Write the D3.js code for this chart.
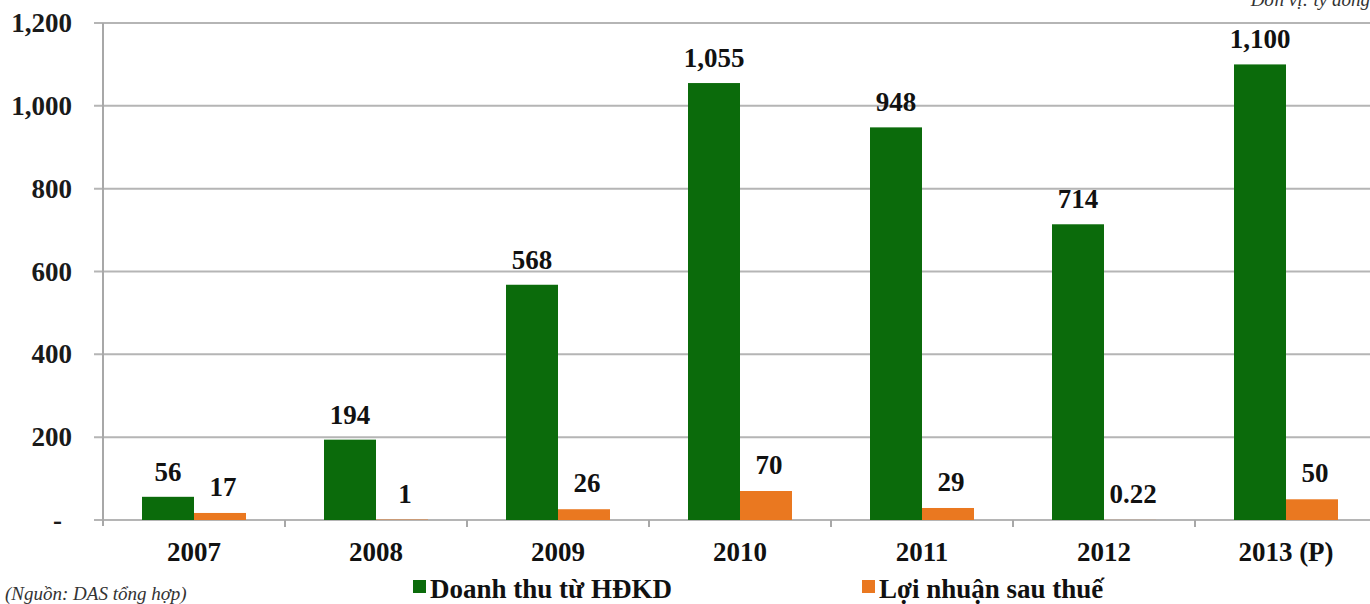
<!DOCTYPE html>
<html>
<head>
<meta charset="utf-8">
<script src="https://cdn.jsdelivr.net/npm/d3@7"></script>
<style>
body { margin: 0; background: #fff; }
text { font-family: "Liberation Serif", "Times New Roman", serif; }
</style>
</head>
<body>
<svg width="1370" height="604"></svg>
<script>
var years = ["2007", "2008", "2009", "2010", "2011", "2012", "2013 (P)"];
var revenue = [56, 194, 568, 1055, 948, 714, 1100];
var profit = [17, 1, 26, 70, 29, 0.22, 50];
var revenueLabels = ["56", "194", "568", "1,055", "948", "714", "1,100"];
var profitLabels = ["17", "1", "26", "70", "29", "0.22", "50"];
var yTicks = [0, 200, 400, 600, 800, 1000, 1200];
var seriesNames = ["Doanh thu từ HĐKD", "Lợi nhuận sau thuế"];
var colors = ["#0b6b0b", "#ea7820"];

var svg = d3.select("svg");
var plotLeft = 103, plotRight = 1377, plotTop = 23, plotBottom = 520;

var x = d3.scaleBand().domain(years).range([plotLeft, plotRight]);
var y = d3.scaleLinear().domain([0, 1200]).range([plotBottom, plotTop]);
var barW = 52;

// grid lines
svg.selectAll("line.grid")
  .data(yTicks)
  .enter()
  .append("line")
  .attr("x1", plotLeft - 9)
  .attr("x2", 1370)
  .attr("y1", function(d) {return y(d)})
  .attr("y2", function(d) {return y(d)})
  .style("stroke", "#b5b5b5")
  .style("stroke-width", 2);

// y axis line
svg.append("line")
  .attr("x1", plotLeft).attr("x2", plotLeft)
  .attr("y1", plotTop).attr("y2", plotBottom + 6)
  .style("stroke", "#a8a8a8")
  .style("stroke-width", 2);

// category ticks
svg.selectAll("line.ctick")
  .data(years.slice(1))
  .enter()
  .append("line")
  .attr("x1", function(d) {return x(d)})
  .attr("x2", function(d) {return x(d)})
  .attr("y1", plotBottom)
  .attr("y2", plotBottom + 7)
  .style("stroke", "#a8a8a8")
  .style("stroke-width", 2);

// y tick labels
var fmt = d3.format(",");
svg.selectAll("text.ylab")
  .data(yTicks)
  .enter()
  .append("text")
  .attr("class", "ylab")
  .attr("x", function(d) {return d === 0 ? 62 : 72})
  .attr("y", function(d) {return y(d) + 9})
  .attr("text-anchor", "end")
  .style("font-size", "27px")
  .style("font-weight", "bold")
  .style("fill", "#1a1a1a")
  .text(function(d) {return d === 0 ? "-" : fmt(d)});

// bars
svg.selectAll("rect.rev")
  .data(revenue)
  .enter()
  .append("rect")
  .attr("x", function(d, i) {return x(years[i]) + x.bandwidth() / 2 - barW})
  .attr("y", function(d) {return y(d)})
  .attr("width", barW)
  .attr("height", function(d) {return plotBottom - y(d)})
  .style("fill", colors[0]);

svg.selectAll("rect.prof")
  .data(profit)
  .enter()
  .append("rect")
  .attr("x", function(d, i) {return x(years[i]) + x.bandwidth() / 2})
  .attr("y", function(d) {return y(d)})
  .attr("width", barW)
  .attr("height", function(d) {return plotBottom - y(d)})
  .style("fill", colors[1]);

// value labels
svg.selectAll("text.rlab")
  .data(revenue)
  .enter()
  .append("text")
  .attr("x", function(d, i) {return x(years[i]) + x.bandwidth() / 2 - barW / 2})
  .attr("y", function(d) {return y(d) - 16})
  .attr("text-anchor", "middle")
  .style("font-size", "27px")
  .style("font-weight", "bold")
  .style("fill", "#111")
  .text(function(d, i) {return revenueLabels[i]});

svg.selectAll("text.plab")
  .data(profit)
  .enter()
  .append("text")
  .attr("x", function(d, i) {return x(years[i]) + x.bandwidth() / 2 + barW / 2 + 3})
  .attr("y", function(d) {return y(d) - 17})
  .attr("text-anchor", "middle")
  .style("font-size", "27px")
  .style("font-weight", "bold")
  .style("fill", "#111")
  .text(function(d, i) {return profitLabels[i]});

// category labels
svg.selectAll("text.xlab")
  .data(years)
  .enter()
  .append("text")
  .attr("x", function(d) {return x(d) + x.bandwidth() / 2})
  .attr("y", 561)
  .attr("text-anchor", "middle")
  .style("font-size", "27px")
  .style("font-weight", "bold")
  .style("fill", "#111")
  .text(function(d) {return d});

// legend
var legendX = [413, 862];
seriesNames.forEach(function(name, i) {
  svg.append("rect")
    .attr("x", legendX[i]).attr("y", 580)
    .attr("width", 13).attr("height", 13)
    .style("fill", colors[i]);
  svg.append("text")
    .attr("x", legendX[i] + 17).attr("y", 598)
    .style("font-size", "27px")
    .style("font-weight", "bold")
    .style("fill", "#111")
    .text(name);
});

// source note
svg.append("text")
  .attr("x", 5).attr("y", 600)
  .style("font-size", "19px")
  .style("font-style", "italic")
  .style("fill", "#333")
  .text("(Nguồn: DAS tổng hợp)");

// unit note, cut at top
svg.append("text")
  .attr("x", 1370).attr("y", 6)
  .attr("text-anchor", "end")
  .style("font-size", "19px")
  .style("font-style", "italic")
  .style("fill", "#333")
  .text("Đơn vị: tỷ đồng");
</script>
</body>
</html>
